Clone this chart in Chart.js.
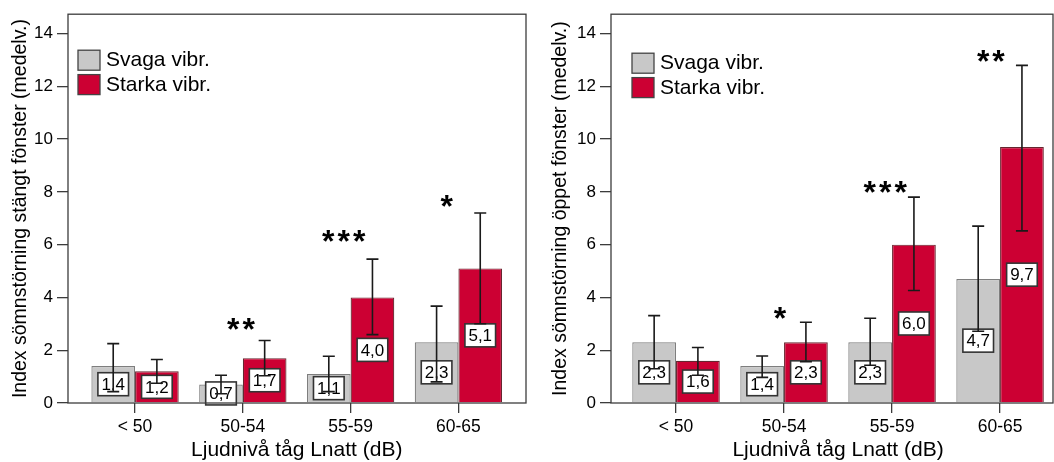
<!DOCTYPE html>
<html lang="sv">
<head>
	<meta charset="UTF-8">
	<title>Sömnstörning och vibrationer</title>
	<script src="https://cdn.jsdelivr.net/npm/chart.js@4.4.1/dist/chart.umd.min.js"></script>
	<style>
		* { box-sizing: border-box; }
		html, body { margin: 0; padding: 0; background: #fff; overflow: hidden; }
		body { width: 1054px; height: 462px; position: relative; }
		canvas { position: absolute; top: 0; }
		#closed { left: 0; }
		#open { left: 540px; }
	</style>
</head>
<body>
	<canvas id="closed" width="540" height="462"></canvas>
	<canvas id="open" width="514" height="462"></canvas>

	<script>
		const categories = ['< 50', '50-54', '55-59', '60-65'];
		const seriesNames = ['Svaga vibr.', 'Starka vibr.'];
		const xTitle = 'Ljudnivå tåg Lnatt (dB)';
		const yTicks = [0, 2, 4, 6, 8, 10, 12, 14];

		// stängt fönster
		const weakClosed = [1.4, 0.7, 1.1, 2.3];
		const weakClosedLow = [0.43, 0.35, 0.43, 0.8];
		const weakClosedHigh = [2.25, 1.05, 1.77, 3.67];
		const strongClosed = [1.2, 1.7, 4.0, 5.1];
		const strongClosedLow = [0.75, 1.03, 2.59, 3.0];
		const strongClosedHigh = [1.65, 2.37, 5.45, 7.2];
		const closedStars = ['', '**', '***', '*'];
		const closedStarY = [null, 2.98, 6.33, 7.65];
		const closedStarX = [0, 0.985, 1.938, 2.895];

		// öppet fönster
		const weakOpen = [2.3, 1.4, 2.3, 4.7];
		const weakOpenLow = [1.3, 0.97, 1.43, 2.72];
		const weakOpenHigh = [3.31, 1.78, 3.21, 6.7];
		const strongOpen = [1.6, 2.3, 6.0, 9.7];
		const strongOpenLow = [1.05, 1.56, 4.26, 6.52];
		const strongOpenHigh = [2.1, 3.06, 7.8, 12.79];
		const openStars = ['', '*', '***', '**'];
		const openStarY = [null, 3.41, 8.17, 13.15];
		const openStarX = [0, 0.966, 1.94, 2.917];

		const FONT = '"Liberation Sans", Arial, sans-serif';
		const GREY = '#c8c8c8', GREY_EDGE = '#7e7e7e';
		const RED = '#cc0033', RED_EDGE = '#66262f';
		const INK = '#000';

		Chart.defaults.font.family = FONT;
		Chart.defaults.color = INK;

		function series(label, values, low, high, fill, edge) {
			return {
				label,
				data: values.map((v, i) => ({ x: i, y: v })),
				ciLow: low,
				ciHigh: high,
				backgroundColor: fill,
				borderColor: edge,
				borderWidth: 1.2,
				categoryPercentage: 0.81,
				barPercentage: 1
			};
		}

		function drawPanel(id, p) {
			// value boxes, error bars, stars, legend and frame
			const extras = {
				id: 'extras',
				afterDraw(chart) {
					const ctx = chart.ctx;
					const xs = chart.scales.x, ys = chart.scales.y;
					const area = chart.chartArea;
					ctx.save();

					chart.data.datasets.forEach((ds, di) => {
						chart.getDatasetMeta(di).data.forEach((bar, i) => {
							const { x, y, base } = bar.getProps(['x', 'y', 'base'], true);
							const txt = ds.data[i].y.toFixed(1).replace('.', ',');
							ctx.font = '17px ' + FONT;
							const w = ctx.measureText(txt).width + 7, h = 23;
							const cy = (y + base) / 2;
							ctx.fillStyle = '#fff';
							ctx.fillRect(x - w / 2, cy - h / 2, w, h);
							ctx.strokeStyle = '#333';
							ctx.lineWidth = 1.6;
							ctx.strokeRect(x - w / 2, cy - h / 2, w, h);
							ctx.fillStyle = '#000';
							ctx.textAlign = 'center';
							ctx.textBaseline = 'middle';
							ctx.fillText(txt, x, cy + 1);
						});
					});

					ctx.strokeStyle = '#1a1a1a';
					ctx.lineWidth = 1.6;
					chart.data.datasets.forEach((ds, di) => {
						chart.getDatasetMeta(di).data.forEach((bar, i) => {
							const x = bar.getProps(['x'], true).x;
							const lo = ys.getPixelForValue(ds.ciLow[i]);
							const hi = ys.getPixelForValue(ds.ciHigh[i]);
							ctx.beginPath();
							ctx.moveTo(x, lo); ctx.lineTo(x, hi);
							ctx.moveTo(x - 6, lo); ctx.lineTo(x + 6, lo);
							ctx.moveTo(x - 6, hi); ctx.lineTo(x + 6, hi);
							ctx.stroke();
						});
					});

					ctx.font = 'bold 32px ' + FONT;
					ctx.letterSpacing = '3px';
					ctx.fillStyle = '#000';
					ctx.textAlign = 'left';
					ctx.textBaseline = 'alphabetic';
					p.stars.forEach((s, i) => {
						if (!s) return;
						const m = ctx.measureText(s);
						const w = m.actualBoundingBoxRight + m.actualBoundingBoxLeft;
						const cx = xs.getPixelForValue(p.starX[i]);
						const cy = ys.getPixelForValue(p.starY[i]);
						const base = cy + (m.actualBoundingBoxAscent - m.actualBoundingBoxDescent) / 2;
						ctx.fillText(s, cx - w / 2 + m.actualBoundingBoxLeft, base);
					});
					ctx.letterSpacing = '0px';

					// legend
					ctx.font = '21px ' + FONT;
					ctx.textBaseline = 'middle';
					chart.data.datasets.forEach((ds, di) => {
						const bx = area.left + p.legend[0];
						const by = area.top + p.legend[1] + di * 24.4;
						ctx.fillStyle = ds.backgroundColor;
						ctx.fillRect(bx, by, 22, 20);
						ctx.strokeStyle = '#444';
						ctx.lineWidth = 1.3;
						ctx.strokeRect(bx, by, 22, 20);
						ctx.fillStyle = '#000';
						ctx.fillText(ds.label, bx + 28, by + 10.5);
					});

					// x-axis title, centred under the categories
					ctx.font = '21px ' + FONT;
					ctx.textAlign = 'center';
					ctx.textBaseline = 'alphabetic';
					ctx.fillStyle = INK;
					ctx.fillText(xTitle, xs.getPixelForValue(1.5), 456);

					ctx.strokeStyle = '#3c3c3c';
					ctx.lineWidth = 1.3;
					ctx.strokeRect(area.left, area.top, area.right - area.left, area.bottom - area.top);
					ctx.restore();
				}
			};

			return new Chart(document.getElementById(id), {
				type: 'bar',
				data: {
					datasets: [
						series(seriesNames[0], p.weak, p.weakLow, p.weakHigh, GREY, GREY_EDGE),
						series(seriesNames[1], p.strong, p.strongLow, p.strongHigh, RED, RED_EDGE)
					]
				},
				plugins: [extras],
				options: {
					responsive: false,
					animation: false,
					layout: { padding: { top: 12, right: p.padRight, bottom: 0, left: 0 } },
					plugins: { legend: { display: false }, tooltip: { enabled: false } },
					scales: {
						x: {
							type: 'linear',
							min: p.xMin,
							max: p.xMax,
							offset: false,
							afterBuildTicks: s => { s.ticks = categories.map((c, i) => ({ value: i })); },
							afterFit: s => { s.height = 59; },
							grid: { offset: false, drawOnChartArea: false, drawTicks: true, tickLength: 10, color: '#3c3c3c', lineWidth: 1.3 },
							border: { display: false },
							ticks: { callback: v => categories[v], font: { size: 17.5 }, color: INK, padding: 4, maxRotation: 0, autoSkip: false }
						},
						y: {
							min: 0,
							max: 14.73,
							afterBuildTicks: s => { s.ticks = yTicks.map(v => ({ value: v })); },
							afterFit: s => { s.width = p.yWidth; },
							grid: { drawOnChartArea: false, tickLength: 11, color: '#3c3c3c', lineWidth: 1.3 },
							border: { display: false },
							ticks: { font: { size: 17 }, color: INK, padding: 4 },
							title: { display: true, text: p.yTitle, font: { size: 19.5 }, color: INK, padding: { top: 9, bottom: 0 } }
						}
					}
				}
			});
		}

		drawPanel('closed', {
			yTitle: 'Index sömnstörning stängt fönster (medelv.)',
			weak: weakClosed, weakLow: weakClosedLow, weakHigh: weakClosedHigh,
			strong: strongClosed, strongLow: strongClosedLow, strongHigh: strongClosedHigh,
			stars: closedStars, starX: closedStarX, starY: closedStarY,
			xMin: -0.622, xMax: 3.627, yWidth: 68, padRight: 14,
			legend: [10, 36]
		});

		drawPanel('open', {
			yTitle: 'Index sömnstörning öppet fönster (medelv.)',
			weak: weakOpen, weakLow: weakOpenLow, weakHigh: weakOpenHigh,
			strong: strongOpen, strongLow: strongOpenLow, strongHigh: strongOpenHigh,
			stars: openStars, starX: openStarX, starY: openStarY,
			xMin: -0.602, xMax: 3.49, yWidth: 71, padRight: 1,
			legend: [21, 39]
		});
	</script>
</body>
</html>
